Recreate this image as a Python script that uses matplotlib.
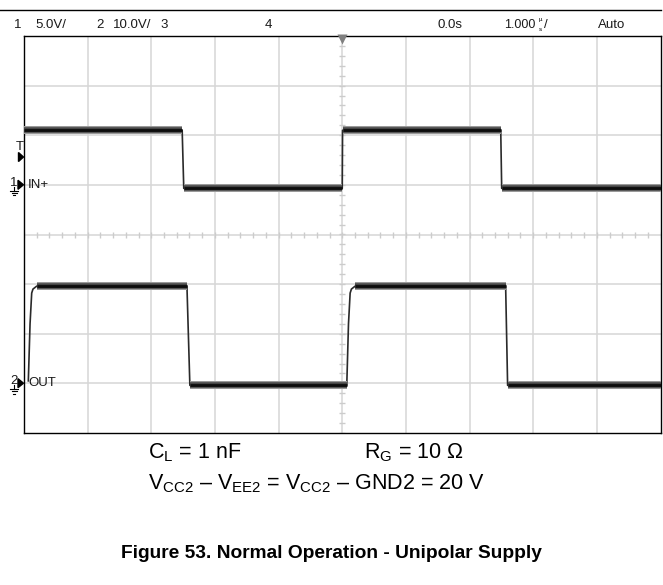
import matplotlib.pyplot as plt
import numpy as np
from matplotlib.lines import Line2D
from matplotlib.patches import Polygon

plt.rcParams['mathtext.fontset'] = 'custom'
plt.rcParams['mathtext.rm'] = 'Liberation Sans'
plt.rcParams['mathtext.it'] = 'Liberation Sans:italic'

# --- scope settings / header readout ---
header_items = ['1', '5.0V/', '2', '10.0V/', '3', '4', '0.0s', '1.000', 'Auto']
header_x_px = [14, 35, 96, 113, 160, 265, 437, 504, 598]

# channel 1 (IN+), 5 V/div, ground reference +1 div from centre
ch1_volts_per_div = 5.0
ch1_offset_div = 1.0
in_t = [-5.0, -2.515, -2.49, 0.0, 0.005, 2.49, 2.505, 5.0]
in_v = [5.5, 5.5, -0.35, -0.35, 5.5, 5.5, -0.35, -0.35]

# channel 2 (OUT), 10 V/div, ground reference -3 div from centre
ch2_volts_per_div = 10.0
ch2_offset_div = -3.0
out_t = [-4.932, -4.905, -4.879, -4.859, -4.80, -2.44, -2.394,
         0.071, 0.098, 0.124, 0.144, 0.203, 2.567, 2.598, 5.0]
out_v = [0.5, 12.0, 18.2, 19.0, 19.6, 19.6, -0.4,
         -0.4, 12.0, 18.2, 19.0, 19.6, 19.6, -0.4, -0.4]

trigger_level_v = 2.8  # channel 1

W, H = 663, 585
fig = plt.figure(figsize=(W / 100, H / 100), dpi=100)


def fx(px):
    return px / W


def fy(py):
    return 1 - py / H


left, right, top, bottom = 24, 660.5, 36, 433
ax = fig.add_axes([fx(left), fy(bottom), fx(right - left), fy(top) - fy(bottom)])
ax.set_xlim(-5, 5)
ax.set_ylim(-4, 4)
ax.set_xticks([])
ax.set_yticks([])
for s in ax.spines.values():
    s.set_linewidth(1.0)
    s.set_color('black')

# graticule
grid_c = '#d6d6d6'
for x in np.arange(-4, 5, 1):
    ax.axvline(x, color=grid_c, lw=1.1, zorder=0)
for y in np.arange(-3, 4, 1):
    ax.axhline(y, color=grid_c, lw=1.1, zorder=0)
minor = np.arange(-5, 5.01, 0.2)
ax.plot(minor, np.zeros_like(minor), ls='none', marker='|', ms=5, mew=1.0,
        color='#cccccc', zorder=0)
minor_y = np.arange(-4, 4.01, 0.2)
ax.plot(np.zeros_like(minor_y), minor_y, ls='none', marker='_', ms=5, mew=1.0,
        color='#cccccc', zorder=0)

# trigger position marker
ax.plot([0], [3.93], marker='v', ms=7, color='#808080', mec='none',
        clip_on=False, zorder=5)


def draw_trace(t, v, vpd, off):
    t = np.asarray(t)
    y = np.asarray(v) / vpd + off
    ax.plot(t, y, color='#2a2a2a', lw=1.2, zorder=3, solid_joinstyle='round')
    # flat segments are drawn as a thick persistence band
    for i in range(len(t) - 1):
        if y[i] == y[i + 1]:
            seg_t = t[i:i + 2]
            seg_y = y[i:i + 2]
            ax.plot(seg_t, seg_y, color='#9a9a9a', lw=8 * 0.72, zorder=3,
                    solid_capstyle='butt')
            ax.plot(seg_t, seg_y, color='#444444', lw=5.5 * 0.72, zorder=3,
                    solid_capstyle='butt')
            ax.plot(seg_t, seg_y, color='#0d0d0d', lw=2.8 * 0.72, zorder=3,
                    solid_capstyle='butt')


draw_trace(in_t, in_v, ch1_volts_per_div, ch1_offset_div)
draw_trace(out_t, out_v, ch2_volts_per_div, ch2_offset_div)

# header
fig.add_artist(Line2D([0, fx(660.5)], [fy(10), fy(10)], color='black', lw=1.0))
hfam = ['Liberation Sans Narrow', 'Liberation Sans', 'DejaVu Sans']
hfont = dict(family=hfam, fontsize=9.5, va='center', ha='left', color='#1a1a1a')
for txt, xp in zip(header_items, header_x_px):
    size = 9 if txt == '1.000' else 9.5
    fig.text(fx(xp), fy(25), txt, **{**hfont, 'fontsize': size})
fig.text(fx(539), fy(19.5), 'µ', fontsize=4.5, ha='left', va='center', family=hfam)
fig.text(fx(539), fy(29.5), 's', fontsize=4.5, ha='left', va='center', family=hfam)
fig.text(fx(544), fy(25), '/', **hfont)

# channel / trigger markers on the left
def ground_marker(label, ypx, name):
    fig.text(fx(10), fy(ypx - 2), label, **hfont)
    fig.add_artist(Polygon([[fx(18), fy(ypx - 4.5)], [fx(18), fy(ypx + 4.5)],
                            [fx(23.5), fy(ypx)]], closed=True, color='black'))
    fig.add_artist(Line2D([fx(14), fx(14)], [fy(ypx + 2), fy(ypx + 6)],
                          color='black', lw=0.8))
    for k, half in enumerate([4, 2.5, 1]):
        yy = fy(ypx + 6 + 2.2 * k)
        fig.add_artist(Line2D([fx(14 - half), fx(14 + half)], [yy, yy],
                              color='black', lw=0.8))
    fig.text(fx(28), fy(ypx), name, **hfont)


ground_marker('1', 184.8, 'IN+')
ground_marker('2', 383.2, 'OUT')

trig_px = 234.4 - (trigger_level_v / ch1_volts_per_div + ch1_offset_div) * 49.6
fig.text(fx(15.5), fy(trig_px - 10), 'T', **hfont)
fig.add_artist(Polygon([[fx(18.5), fy(trig_px - 4.5)], [fx(18.5), fy(trig_px + 4.5)],
                        [fx(23.5), fy(trig_px)]], closed=True, color='black'))

# test conditions and caption
tfont = dict(family='Liberation Sans', fontsize=15.5, va='center', ha='left')
fig.text(fx(148), fy(453), r'C$_\mathrm{L}$ = 1 nF', **tfont)
fig.text(fx(364), fy(453), r'R$_\mathrm{G}$ = 10 $\Omega$', **tfont)
fig.text(fx(148), fy(484),
         r'V$_\mathrm{CC2}$ – V$_\mathrm{EE2}$ = V$_\mathrm{CC2}$ – GND2 = 20 V',
         **tfont)
fig.text(fx(331), fy(553), 'Figure 53. Normal Operation - Unipolar Supply',
         family='Liberation Sans', fontsize=13.8, fontweight='bold',
         ha='center', va='center')

fig.savefig('out.png', dpi=100)
